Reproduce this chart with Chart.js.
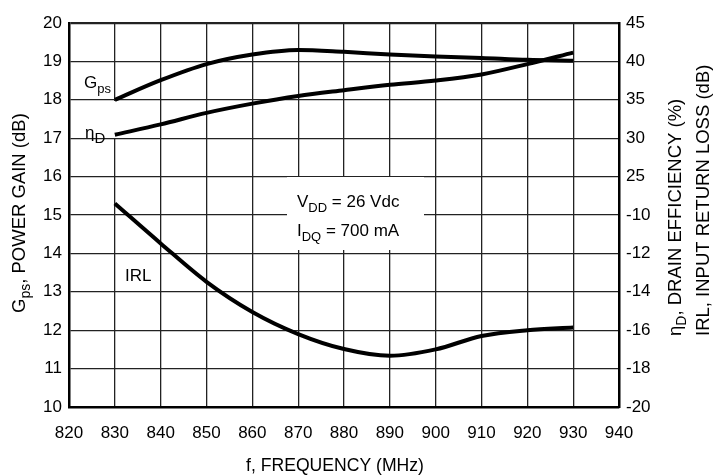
<!DOCTYPE html>
<html>
<head>
<meta charset="utf-8">
<script src="https://cdn.jsdelivr.net/npm/chart.js@4.4.1/dist/chart.umd.min.js"></script>
<style>
  html, body { margin: 0; padding: 0; background: #fff; }
  canvas { display: block; }
</style>
</head>
<body>
<canvas id="c" width="716" height="476"></canvas>
<script>
// ---- data ----
const freqMHz = [830, 840, 850, 860, 870, 880, 890, 900, 910, 920, 930];
const gainDb = [18.0, 18.51, 18.93, 19.18, 19.30, 19.25, 19.18, 19.13, 19.09, 19.04, 19.02];
const drainEffPct = [30.45, 31.8, 33.3, 34.5, 35.5, 36.25, 36.95, 37.5, 38.3, 39.65, 41.15];
const irlDb = [-9.4, -11.48, -13.48, -15.05, -16.2, -16.98, -17.33, -17.0, -16.3, -16.0, -15.86];

const xTickMin = 820, xTickMax = 940, xTickStep = 10;
const leftTickMin = 10, leftTickMax = 20;
const rightTickLabels = ['-20', '-18', '-16', '-14', '-12', '-10', '25', '30', '35', '40', '45'];

// right-axis mappings onto the left (gain) scale
const effToAxis = p => 20 - (45 - p) / 5;
const irlToAxis = d => 10 + (d + 20) / 2;

const FONT = '"Liberation Sans", Arial, sans-serif';

function drawRich(ctx, x, y, parts, rotate) {
  ctx.save();
  ctx.translate(x, y);
  if (rotate) ctx.rotate(-Math.PI / 2);
  ctx.fillStyle = '#000';
  ctx.textAlign = 'left';
  ctx.textBaseline = 'alphabetic';
  let cx = 0;
  for (const p of parts) {
    ctx.font = p.size + 'px ' + FONT;
    ctx.fillText(p.t, cx, p.dy || 0);
    cx += ctx.measureText(p.t).width;
  }
  ctx.restore();
}

const annotations = {
  id: 'annotations',
  beforeDatasetsDraw(chart) {
    const ctx = chart.ctx;
    ctx.save();
    ctx.fillStyle = '#fff';
    ctx.fillRect(287, 177, 137, 73);   // condition box
    ctx.fillRect(71, 101, 46, 37);     // eta_D label box
    ctx.restore();
  },
  afterDraw(chart) {
    const ctx = chart.ctx;
    // in-plot labels
    drawRich(ctx, 84, 88, [{t: 'G', size: 17}, {t: 'ps', size: 13, dy: 5}]);
    drawRich(ctx, 85, 138, [{t: 'η', size: 17}, {t: 'D', size: 15, dy: 5}]);
    drawRich(ctx, 125, 281, [{t: 'IRL', size: 17}]);
    drawRich(ctx, 297, 207, [{t: 'V', size: 17}, {t: 'DD', size: 13, dy: 5}, {t: ' = 26 Vdc', size: 17}]);
    drawRich(ctx, 297, 236, [{t: 'I', size: 17}, {t: 'DQ', size: 13, dy: 5}, {t: ' = 700 mA', size: 17}]);
    // axis titles
    ctx.save();
    ctx.font = '17.6px ' + FONT;
    ctx.fillStyle = '#000';
    ctx.textAlign = 'center';
    ctx.fillText('f, FREQUENCY (MHz)', 335, 471);
    ctx.restore();
    drawRich(ctx, 25, 313, [{t: 'G', size: 18.5}, {t: 'ps', size: 14, dy: 5}, {t: ', POWER GAIN (dB)', size: 18.5}], true);
    drawRich(ctx, 681, 336, [{t: 'η', size: 18.5}, {t: 'D', size: 14, dy: 5}, {t: ', DRAIN EFFICIENCY (%)', size: 18.5}], true);
    drawRich(ctx, 709, 336, [{t: 'IRL, INPUT RETURN LOSS (dB)', size: 18.5}], true);
  }
};

const lineStyle = {
  borderColor: '#000',
  borderWidth: 4,
  pointRadius: 0,
  fill: false,
  tension: 0.4,
  cubicInterpolationMode: 'monotone',
  borderCapStyle: 'butt'
};

new Chart(document.getElementById('c'), {
  type: 'line',
  data: {
    datasets: [
      Object.assign({label: 'Gps', data: freqMHz.map((f, i) => ({x: f, y: gainDb[i]}))}, lineStyle),
      Object.assign({label: 'ηD', data: freqMHz.map((f, i) => ({x: f, y: effToAxis(drainEffPct[i])}))}, lineStyle),
      Object.assign({label: 'IRL', data: freqMHz.map((f, i) => ({x: f, y: irlToAxis(irlDb[i])}))}, lineStyle)
    ]
  },
  options: {
    responsive: false,
    devicePixelRatio: 1,
    animation: false,
    layout: {padding: {top: 23, left: 0, right: 0, bottom: 0}},
    plugins: {legend: {display: false}, tooltip: {enabled: false}, title: {display: false}},
    scales: {
      x: {
        type: 'linear',
        min: xTickMin, max: xTickMax,
        ticks: {stepSize: xTickStep, autoSkip: false, maxRotation: 0, color: '#000', padding: 16, font: {family: FONT, size: 17}},
        grid: {color: '#222', lineWidth: 1.3, drawTicks: false},
        border: {color: '#000', width: 2.5},
        afterFit: s => { s.height = 69; }
      },
      y: {
        position: 'left',
        min: leftTickMin, max: leftTickMax,
        ticks: {stepSize: 1, autoSkip: false, color: '#000', padding: 7, font: {family: FONT, size: 17}},
        grid: {color: '#222', lineWidth: c => (c.tick && c.tick.value === 20 ? 2.2 : 1.3), drawTicks: false},
        border: {color: '#000', width: 2.5},
        afterFit: s => { s.width = 69; }
      },
      y2: {
        position: 'right',
        min: leftTickMin, max: leftTickMax,
        ticks: {stepSize: 1, autoSkip: false, color: '#000', padding: 7, font: {family: FONT, size: 17},
          callback: v => rightTickLabels[Math.round(v - leftTickMin)]},
        grid: {display: true, drawOnChartArea: false, drawTicks: false},
        border: {color: '#000', width: 2.5},
        afterFit: s => { s.width = 97; }
      }
    }
  },
  plugins: [annotations]
});
</script>
</body>
</html>
